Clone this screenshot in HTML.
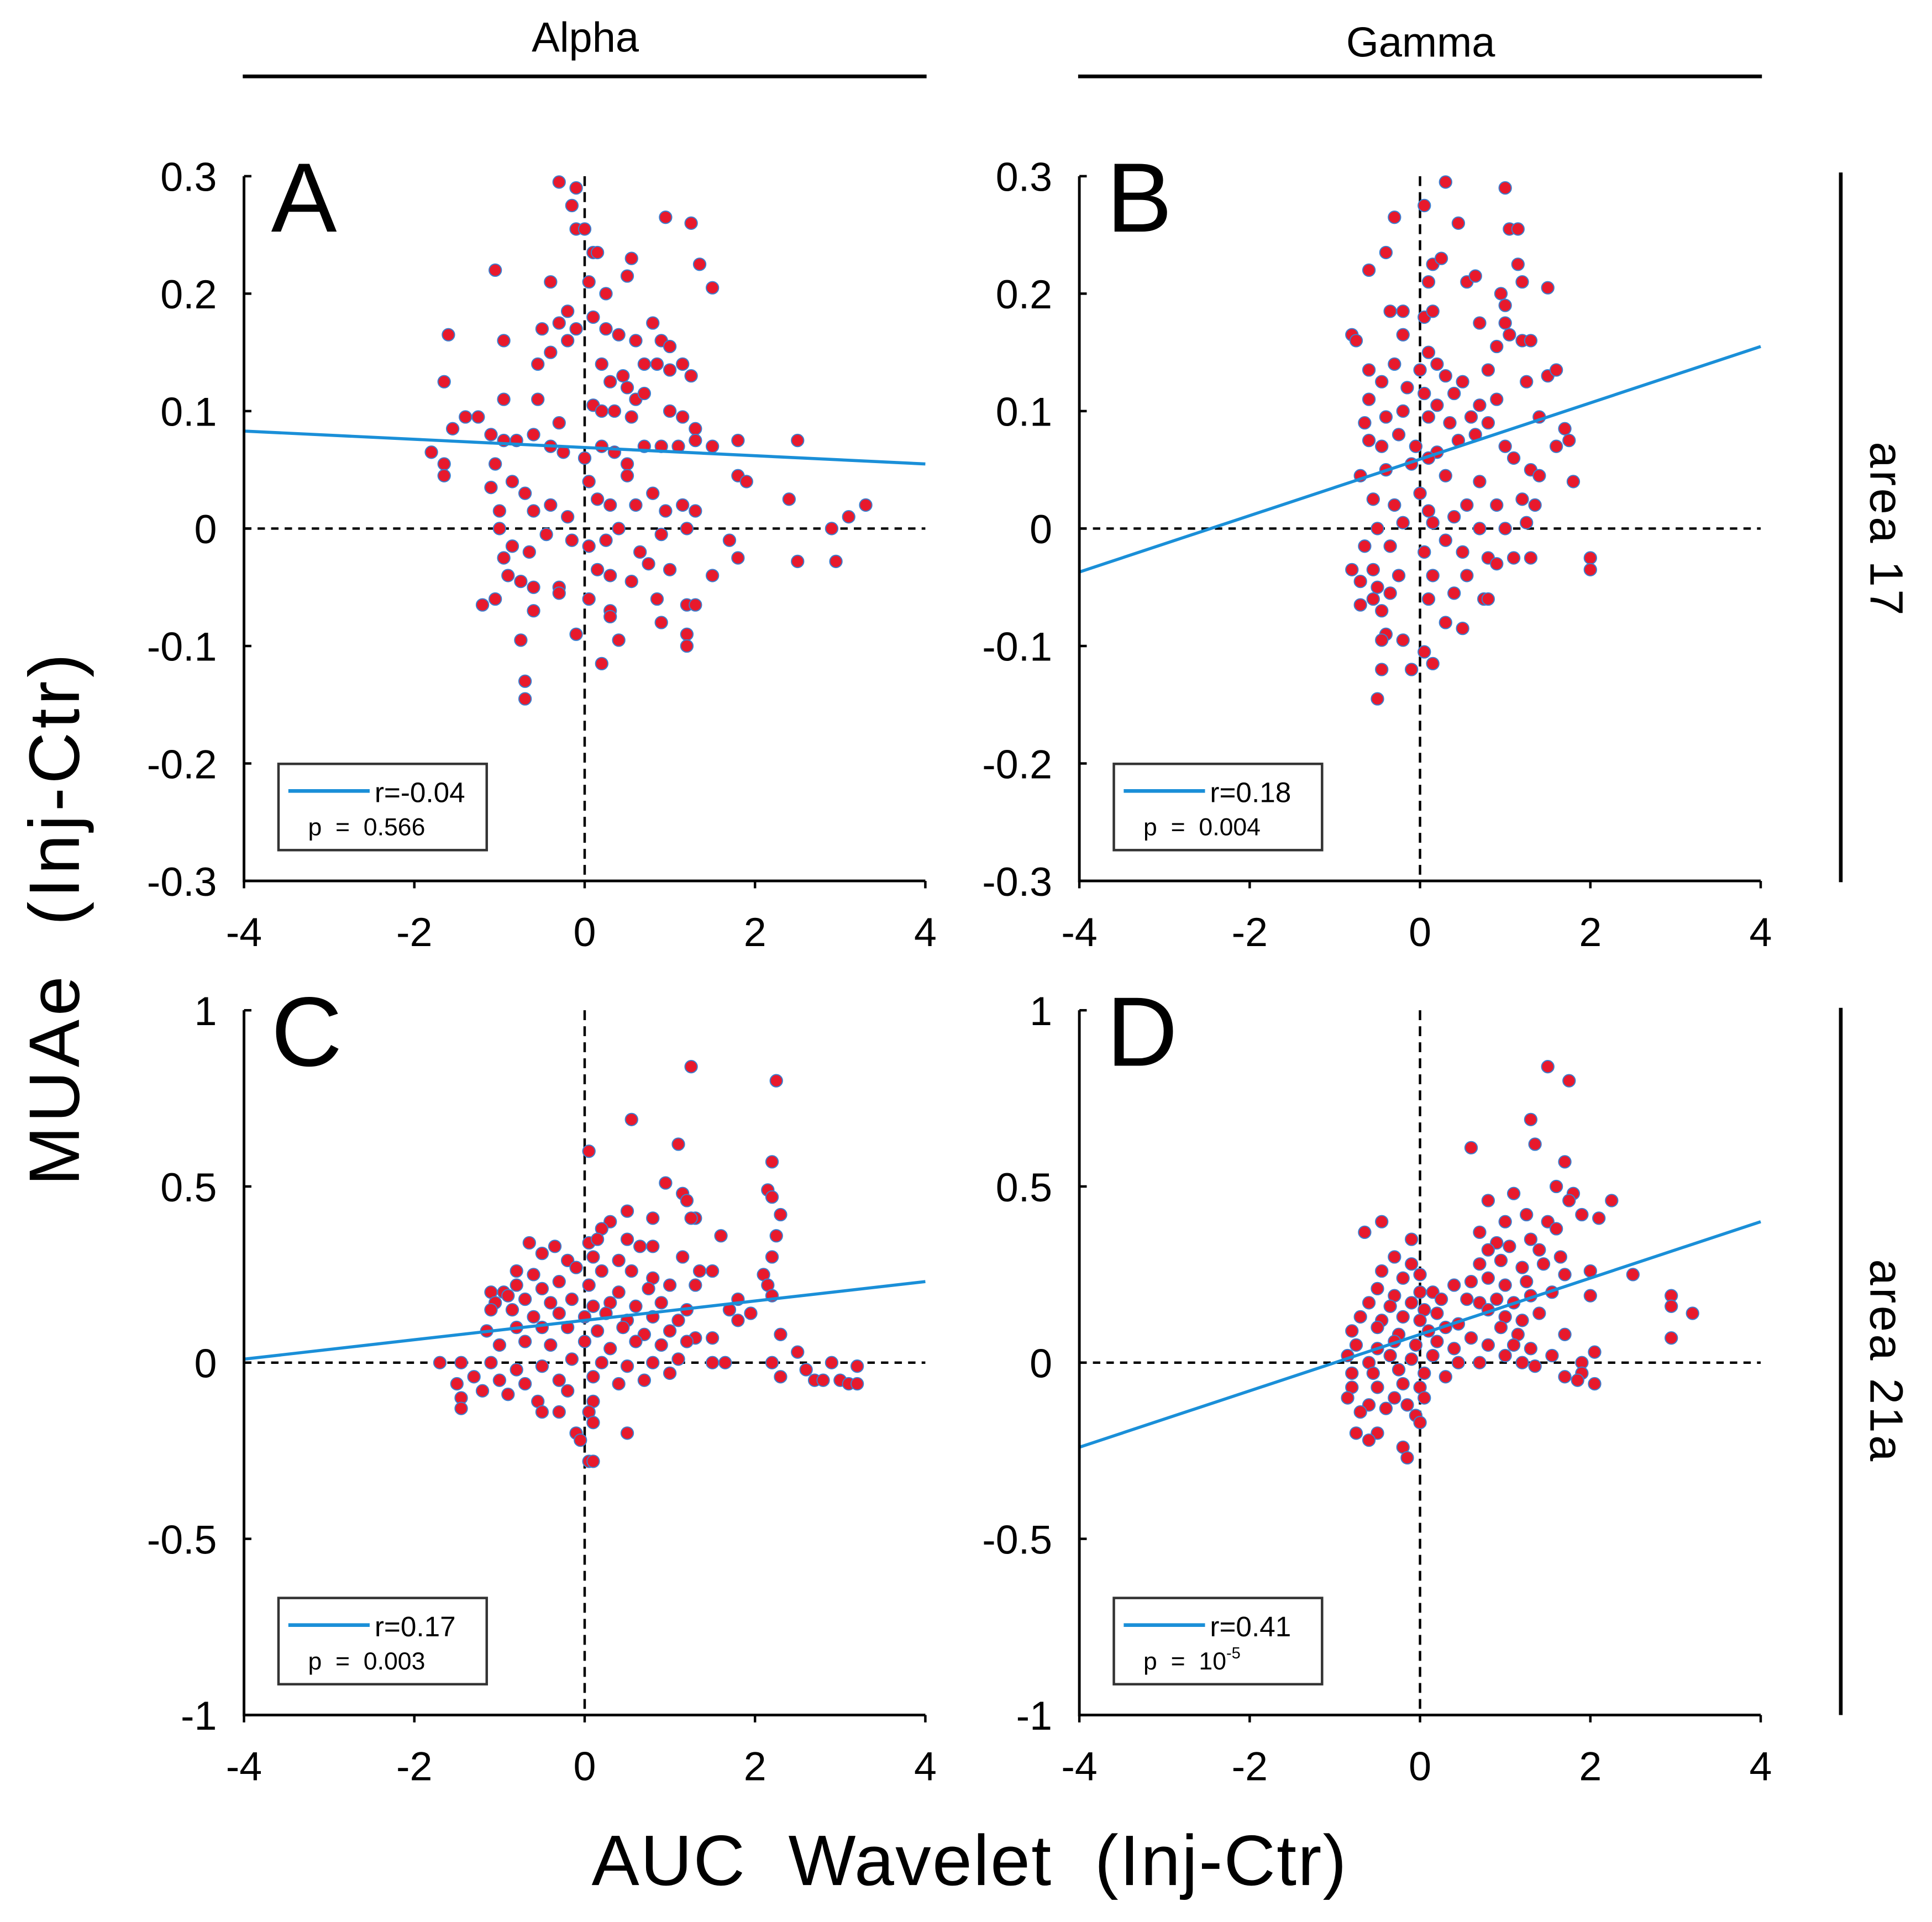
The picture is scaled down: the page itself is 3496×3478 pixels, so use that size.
<!DOCTYPE html>
<html><head><meta charset="utf-8"><style>
html,body{margin:0;padding:0;background:#fff;}
svg{display:block;}
text{font-family:"Liberation Sans",sans-serif;fill:#000;white-space:pre;}
</style></head><body>
<svg id="fig" width="3496" height="3478" viewBox="0 0 1568 1560" xmlns="http://www.w3.org/2000/svg">
<rect width="1568" height="1560" fill="#fff"/>
<text x="475" y="42" font-size="34" text-anchor="middle">Alpha</text>
<line x1="197" y1="62" x2="752" y2="62" stroke="#000" stroke-width="3"/>
<text x="1153" y="46" font-size="34" text-anchor="middle">Gamma</text>
<line x1="875" y1="62" x2="1430" y2="62" stroke="#000" stroke-width="3"/>
<line x1="1494" y1="140" x2="1494" y2="716" stroke="#000" stroke-width="3"/>
<line x1="1494" y1="818" x2="1494" y2="1392" stroke="#000" stroke-width="3"/>
<text transform="translate(1518,430) rotate(90)" font-size="38" text-anchor="middle" letter-spacing="2">area 17</text>
<text transform="translate(1518,1105) rotate(90)" font-size="38" text-anchor="middle" letter-spacing="2">area 21a</text>
<text transform="translate(64,745) rotate(-90)" font-size="58" text-anchor="middle" letter-spacing="3">MUAe  (Inj-Ctr)</text>
<text x="787" y="1530" font-size="58" text-anchor="middle" letter-spacing="1">AUC  Wavelet  (Inj-Ctr)</text>
<g id="panels"></g>
</svg>
<script>
const ptsA_x=[-0.3,-0.1,-0.15,-0.1,0,0.1,0.15,-0.4,0.05,0.25,0.55,0.5,0.95,1.25,1.35,1.5,-1.05,-1.6,-1.65,-0.95,-0.5,-0.3,-0.2,-0.1,0.1,0.25,0.4,0.6,0.8,0.9,1.0,0.7,0.85,1.0,1.15,1.25,0.2,0.3,0.45,0.5,0.6,0.7,0.1,0.2,0.35,0.55,1.0,1.15,1.3,-0.55,-0.4,-0.2,-0.55,-0.3,-0.95,-1.4,-1.25,-1.55,-1.1,-0.95,-0.8,-0.6,-0.4,-0.25,0,0.2,0.35,0.5,0.7,0.9,1.1,1.3,1.5,1.8,2.5,1.8,1.9,2.4,3.3,3.1,2.9,-1.8,-1.65,-1.65,-1.05,-1.1,-0.85,-0.7,-1.0,-0.6,-0.4,-0.2,0.05,0.15,0.3,0.5,0.6,0.8,0.95,1.15,1.3,-1.0,-0.85,-0.65,-0.45,-0.15,0.05,0.25,0.4,0.65,0.9,1.2,1.7,1.8,2.5,2.95,-0.95,-0.9,-0.75,-0.6,-0.3,0.15,0.3,0.55,0.75,1.0,1.5,-1.2,-1.05,-0.6,-0.3,0.05,0.3,0.85,1.2,1.3,0.9,0.3,-0.75,-0.1,0.4,1.2,1.2,0.2,-0.7,-0.7];
const ptsA_y=[0.295,0.29,0.275,0.255,0.255,0.235,0.235,0.21,0.21,0.2,0.23,0.215,0.265,0.26,0.225,0.205,0.22,0.165,0.125,0.16,0.17,0.175,0.185,0.17,0.18,0.17,0.165,0.16,0.175,0.16,0.155,0.14,0.14,0.135,0.14,0.13,0.14,0.125,0.13,0.12,0.11,0.115,0.105,0.1,0.1,0.095,0.1,0.095,0.085,0.14,0.15,0.16,0.11,0.09,0.11,0.095,0.095,0.085,0.08,0.075,0.075,0.08,0.07,0.065,0.06,0.07,0.065,0.055,0.07,0.07,0.07,0.075,0.07,0.075,0.075,0.045,0.04,0.025,0.02,0.01,0.0,0.065,0.055,0.045,0.055,0.035,0.04,0.03,0.015,0.015,0.02,0.01,0.04,0.025,0.02,0.045,0.02,0.03,0.015,0.02,0.015,0.0,-0.015,-0.02,-0.005,-0.01,-0.015,-0.01,0.0,-0.02,-0.005,0.0,-0.01,-0.025,-0.028,-0.028,-0.025,-0.04,-0.045,-0.05,-0.05,-0.035,-0.04,-0.045,-0.03,-0.035,-0.04,-0.065,-0.06,-0.07,-0.055,-0.06,-0.07,-0.06,-0.065,-0.065,-0.08,-0.075,-0.095,-0.09,-0.095,-0.09,-0.1,-0.115,-0.13,-0.145];
const ptsB_x=[0.3,1.0,0.05,0.45,-0.3,1.05,1.15,-0.4,-0.6,0.15,0.25,0.55,0.65,1.15,1.2,1.5,0.1,0.95,1.0,-0.8,-0.75,-0.35,-0.2,0.05,0.15,0.7,1.0,1.05,1.2,1.3,0.9,-0.2,0.1,0.2,-0.6,-0.3,0.0,0.3,0.5,0.8,1.25,1.5,1.6,-0.6,-0.45,-0.15,0.05,0.2,0.4,0.7,0.9,-0.65,-0.4,-0.2,0.1,0.35,0.6,0.8,1.4,1.7,-0.6,-0.45,-0.25,-0.05,0.2,0.45,0.65,1.0,1.1,1.6,1.75,-0.7,-0.4,-0.1,0.1,0.3,0.7,1.3,1.4,1.8,-0.55,-0.3,0.0,0.1,0.4,0.55,0.9,1.2,1.35,-0.5,-0.2,0.15,0.7,1.0,1.25,-0.65,-0.35,0.05,0.3,0.5,0.8,1.1,1.3,2.0,2.0,-0.8,-0.55,-0.25,0.15,0.55,0.9,-0.7,-0.5,-0.35,0.1,0.4,0.75,0.8,-0.7,-0.55,-0.45,0.5,-0.4,-0.45,-0.2,0.05,0.3,0.15,-0.1,-0.45,-0.5];
const ptsB_y=[0.295,0.29,0.275,0.26,0.265,0.255,0.255,0.235,0.22,0.225,0.23,0.21,0.215,0.225,0.21,0.205,0.21,0.2,0.19,0.165,0.16,0.185,0.185,0.18,0.185,0.175,0.175,0.165,0.16,0.16,0.155,0.165,0.15,0.14,0.135,0.14,0.135,0.13,0.125,0.135,0.125,0.13,0.135,0.11,0.125,0.12,0.115,0.105,0.115,0.105,0.11,0.09,0.095,0.1,0.095,0.09,0.095,0.09,0.095,0.085,0.075,0.07,0.08,0.07,0.065,0.075,0.08,0.07,0.06,0.07,0.075,0.045,0.05,0.055,0.06,0.045,0.04,0.05,0.045,0.04,0.025,0.02,0.03,0.015,0.01,0.02,0.02,0.025,0.02,0.0,0.005,0.005,0.0,0.0,0.005,-0.015,-0.015,-0.02,-0.01,-0.02,-0.025,-0.025,-0.025,-0.025,-0.035,-0.035,-0.035,-0.04,-0.04,-0.04,-0.03,-0.045,-0.05,-0.055,-0.06,-0.055,-0.06,-0.06,-0.065,-0.06,-0.07,-0.085,-0.09,-0.095,-0.095,-0.105,-0.08,-0.115,-0.12,-0.12,-0.145];
const ptsC_x=[1.25,2.25,0.55,1.1,0.05,2.2,0.95,2.15,2.2,1.15,1.2,2.3,0.5,0.8,1.3,1.25,0.3,0.2,1.6,2.25,0.05,0.15,0.5,0.65,0.8,-0.65,-0.35,-0.5,-0.2,0.1,0.4,1.15,2.2,-0.8,-0.6,-0.1,0.2,0.55,0.8,1.35,1.5,2.1,-1.1,-0.95,-0.8,-0.5,-0.3,0.05,0.4,0.75,1.0,1.3,2.15,-1.05,-0.9,-0.7,-0.4,-0.15,0.1,0.3,0.6,0.9,1.2,1.8,2.2,-1.1,-0.85,-0.6,-0.3,0.0,0.25,0.5,0.8,1.1,1.7,1.95,-1.15,-0.8,-0.5,-0.2,0.15,0.45,0.7,1.0,1.3,1.8,-1.0,-0.7,-0.4,0.0,0.3,0.6,0.9,1.2,1.5,2.3,2.5,-1.7,-1.45,-1.1,-0.8,-0.5,-0.15,0.2,0.5,0.8,1.1,1.5,1.65,2.2,2.9,3.2,2.6,2.3,-1.5,-1.3,-1.0,-0.7,-0.3,0.1,0.4,0.7,1.0,2.7,2.8,3.0,3.1,3.2,-1.45,-1.2,-0.9,-0.55,-0.2,0.1,-1.45,-0.5,-0.3,0.05,0.1,-0.1,0.5,-0.05,0.05,0.1];
const ptsC_y=[0.84,0.8,0.69,0.62,0.6,0.57,0.51,0.49,0.47,0.48,0.46,0.42,0.43,0.41,0.41,0.41,0.4,0.38,0.36,0.36,0.34,0.35,0.35,0.33,0.33,0.34,0.33,0.31,0.29,0.3,0.29,0.3,0.3,0.26,0.25,0.27,0.26,0.26,0.24,0.26,0.26,0.25,0.2,0.2,0.22,0.21,0.23,0.22,0.2,0.21,0.22,0.22,0.22,0.17,0.19,0.18,0.17,0.18,0.16,0.17,0.16,0.17,0.15,0.18,0.19,0.15,0.15,0.13,0.14,0.13,0.14,0.12,0.13,0.12,0.15,0.14,0.09,0.1,0.1,0.1,0.09,0.1,0.08,0.09,0.07,0.12,0.05,0.06,0.05,0.06,0.04,0.06,0.05,0.06,0.07,0.08,0.03,0.0,0.0,0.0,-0.02,-0.01,0.01,0.0,-0.01,0.0,0.01,0.0,0.0,0.0,0.0,-0.01,-0.02,-0.04,-0.06,-0.04,-0.05,-0.06,-0.05,-0.04,-0.06,-0.05,-0.03,-0.05,-0.05,-0.05,-0.06,-0.06,-0.1,-0.08,-0.09,-0.11,-0.08,-0.11,-0.13,-0.14,-0.14,-0.14,-0.17,-0.2,-0.2,-0.22,-0.28,-0.28];
const ptsD_x=[1.5,1.75,1.3,0.6,1.35,1.7,1.6,1.8,1.75,2.25,0.8,1.1,1.9,2.1,-0.45,-0.65,0.7,1.0,1.25,1.5,1.6,-0.1,0.9,1.3,-0.3,-0.1,0.8,1.05,1.4,1.65,-0.45,-0.2,0.0,0.7,0.95,1.2,1.45,2.0,2.5,-0.5,-0.3,0.0,0.15,0.4,0.6,0.8,1.0,1.25,1.7,-0.6,-0.35,-0.1,0.05,0.25,0.55,0.7,0.9,1.1,1.3,1.55,2.0,2.95,2.95,3.2,-0.7,-0.45,-0.2,0.0,0.2,0.45,0.8,1.0,1.2,1.4,-0.8,-0.5,-0.25,0.1,0.3,0.6,0.95,1.15,2.95,-0.75,-0.5,-0.3,-0.05,0.2,0.4,0.8,1.1,1.3,1.7,2.05,-0.85,-0.6,-0.35,-0.1,0.15,0.45,0.7,1.0,1.2,1.35,1.55,1.9,-0.8,-0.55,-0.25,0.05,0.3,1.7,1.9,2.05,1.85,-0.8,-0.5,-0.2,0.0,-0.85,-0.6,-0.3,0.05,-0.7,-0.4,-0.15,-0.05,0.0,-0.75,-0.5,-0.6,-0.2,-0.15];
const ptsD_y=[0.84,0.8,0.69,0.61,0.62,0.57,0.5,0.48,0.46,0.46,0.46,0.48,0.42,0.41,0.4,0.37,0.37,0.4,0.42,0.4,0.38,0.35,0.34,0.35,0.3,0.28,0.32,0.33,0.32,0.3,0.26,0.24,0.25,0.28,0.29,0.27,0.28,0.26,0.25,0.21,0.19,0.2,0.2,0.22,0.23,0.24,0.22,0.23,0.25,0.17,0.16,0.17,0.15,0.18,0.18,0.17,0.18,0.17,0.19,0.2,0.19,0.19,0.16,0.14,0.13,0.12,0.13,0.12,0.14,0.11,0.15,0.13,0.12,0.14,0.09,0.1,0.08,0.09,0.1,0.07,0.1,0.08,0.07,0.05,0.04,0.06,0.05,0.06,0.04,0.05,0.05,0.04,0.08,0.03,0.02,0.0,0.02,0.01,0.02,0.0,0.0,0.02,0.0,-0.01,0.02,0.0,-0.03,-0.03,-0.02,-0.03,-0.04,-0.04,-0.03,-0.06,-0.05,-0.07,-0.07,-0.06,-0.07,-0.1,-0.12,-0.1,-0.1,-0.14,-0.13,-0.12,-0.15,-0.17,-0.2,-0.2,-0.22,-0.24,-0.27];
const xTicks=[-4,-2,0,2,4];
const yTicksTop=[0.3,0.2,0.1,0,-0.1,-0.2,-0.3];
const yTicksBot=[1,0.5,0,-0.5,-1];
const fitA=[0.083,0.055], fitB=[-0.037,0.155], fitC=[0.01,0.23], fitD=[-0.24,0.4];
const rLabels=["r=-0.04","r=0.18","r=0.17","r=0.41"];
const pLabels=["p  =  0.566","p  =  0.004","p  =  0.003","p  =  10"];

const NS="http://www.w3.org/2000/svg";
const root=document.getElementById('panels');
function mk(tag,attrs,parent){const e=document.createElementNS(NS,tag);for(const k in attrs)e.setAttribute(k,attrs[k]);(parent||root).appendChild(e);return e;}
const panels=[
 {id:'a',L:198,R:751,T:143,B:715,ymin:-0.3,ymax:0.3,yt:yTicksTop,xs:ptsA_x,ys:ptsA_y,fit:fitA,letter:'A'},
 {id:'b',L:876,R:1429,T:143,B:715,ymin:-0.3,ymax:0.3,yt:yTicksTop,xs:ptsB_x,ys:ptsB_y,fit:fitB,letter:'B'},
 {id:'c',L:198,R:751,T:820,B:1392,ymin:-1,ymax:1,yt:yTicksBot,xs:ptsC_x,ys:ptsC_y,fit:fitC,letter:'C'},
 {id:'d',L:876,R:1429,T:820,B:1392,ymin:-1,ymax:1,yt:yTicksBot,xs:ptsD_x,ys:ptsD_y,fit:fitD,letter:'D'}
];
panels.forEach((p,i)=>{
 const g=mk('g',{});
 
 
 const sx=v=>p.L+(v+4)/8*(p.R-p.L);
 const sy=v=>p.B-(v-p.ymin)/(p.ymax-p.ymin)*(p.B-p.T);
 const hz=mk('line',{x1:p.L,x2:p.R,y1:sy(0),y2:sy(0),stroke:'#000','stroke-width':2,'stroke-dasharray':'6,5'},g);
 
 
 const vz=mk('line',{x1:sx(0),x2:sx(0),y1:p.T,y2:p.B,stroke:'#000','stroke-width':2,'stroke-dasharray':'8,5'},g);
 
 
 for(let k=0;k<p.xs.length;k++){
  const c=mk('circle',{cx:sx(p.xs[k]),cy:sy(p.ys[k]),r:5,fill:'#e8192c',stroke:'#3a7fd0','stroke-width':0.9},g);
  
  
 }
 const fl=mk('line',{x1:sx(-4),y1:sy(p.fit[0]),x2:sx(4),y2:sy(p.fit[1]),stroke:'#1a8fd8','stroke-width':2.5},g);
 
 
 const ax=mk('path',{d:`M${p.L},${p.T} V${p.B} H${p.R}`,fill:'none',stroke:'#000','stroke-width':2.2},g);
 
 
 xTicks.forEach(t=>{
  mk('line',{x1:sx(t),x2:sx(t),y1:p.B,y2:p.B+6,stroke:'#000','stroke-width':2},g);
  const tx=mk('text',{x:sx(t),y:p.B+53,'font-size':33,'text-anchor':'middle'},g);
  tx.textContent=String(t);
  
  
 });
 p.yt.forEach(t=>{
  mk('line',{x1:p.L,x2:p.L+6,y1:sy(t),y2:sy(t),stroke:'#000','stroke-width':2},g);
  const ty=mk('text',{x:p.L-22,y:sy(t)+12,'font-size':33,'text-anchor':'end'},g);
  ty.textContent=String(t);
  
  
 });
 const lt=mk('text',{x:p.L+22,y:p.T+45,'font-size':80},g);
 lt.textContent=p.letter;
 
 
 const lg=mk('g',{},g);
 
 
 const ly=p.B-95;
 mk('rect',{x:p.L+28,y:ly,width:169,height:70,fill:'#fff',stroke:'#333','stroke-width':2},lg);
 mk('line',{x1:p.L+36,x2:p.L+102,y1:ly+22,y2:ly+22,stroke:'#1a8fd8','stroke-width':3},lg);
 const rt=mk('text',{x:p.L+106,y:ly+31,'font-size':23},lg);
 rt.textContent=rLabels[i];
 
 
 const pt=mk('text',{x:p.L+52,y:ly+58,'font-size':20},lg);
 pt.textContent=pLabels[i];
 
 
 if(i===3){const sup=mk('tspan',{dy:-9,'font-size':13},pt);sup.textContent='-5';}
});
</script>
</body></html>
